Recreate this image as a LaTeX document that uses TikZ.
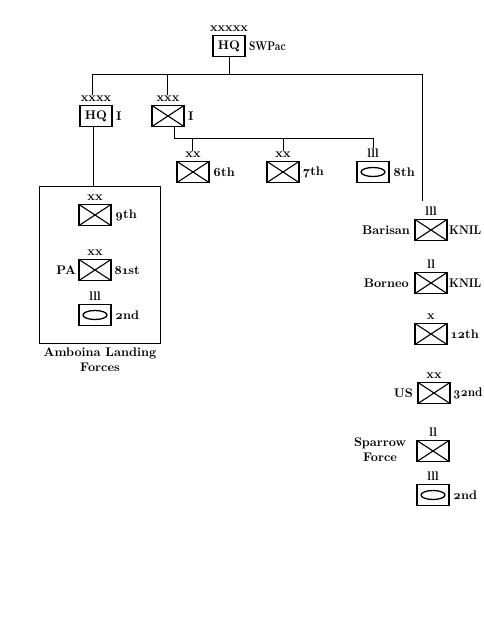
\documentclass[tikz,border=0pt]{standalone}
\usepackage{graphicx}
\usepackage{fontspec}
\setmainfont{lmroman10}[Extension=.otf, UprightFont=*-regular, BoldFont=*-bold, ItalicFont=*-italic, BoldItalicFont=*-bolditalic, Numbers=OldStyle]
\usetikzlibrary{positioning}
\newcommand{\squeeze}[2]{\scalebox{#1}[1]{#2}}
\begin{document}
\begin{tikzpicture}[x=1pt,y=-1pt,
  every node/.style={font=\bfseries\fontsize{12.5}{14}\selectfont},
  unitbox/.style={draw, line width=1.8pt, minimum width=32pt, minimum height=21pt, inner sep=0pt},
  inf/.style={unitbox, path picture={\draw[line width=1.1pt]
     (path picture bounding box.north west) -- (path picture bounding box.south east)
     (path picture bounding box.south west) -- (path picture bounding box.north east);}},
  rec/.style={unitbox, path picture={\draw[line width=1.3pt]
     (path picture bounding box.center) ellipse[x radius=12pt, y radius=4.5pt];}},
  hq/.style={unitbox},
  ech/.style={anchor=base, inner sep=0.5pt},
  sidel/.style={anchor=west, inner sep=0pt},
  sider/.style={anchor=east, inner sep=0pt},
  twoline/.style={align=center, inner sep=0pt, font=\bfseries\fontsize{12.5}{15}\selectfont},
  conn/.style={line width=1pt}
]
\useasboundingbox (0,0) rectangle (484,638);
\fill[white] (0,0) rectangle (484,638);

% top HQ
\node[hq] (sw) at (229,46) {HQ};
\node[ech] (swe) at ([yshift=3pt]sw.north) {xxxxx};
\node[sidel] at ([xshift=3pt]sw.east) {\squeeze{0.8}{SWPac}};

% army level
\node[hq] (hqI) at (96,116) {HQ};
\node[ech] (hqIe) at ([yshift=3pt]hqI.north) {xxxx};
\node[sidel] at ([xshift=3pt]hqI.east) {I};

\node[inf] (crI) at (168,116) {};
\node[ech] (crIe) at ([yshift=3pt]crI.north) {xxx};
\node[sidel] at ([xshift=3pt]crI.east) {I};

% divisions under corps
\node[inf] (c6) at (193,172) {};
\node[ech] (c6e) at ([yshift=3pt]c6.north) {xx};
\node[sidel] at ([xshift=3pt]c6.east) {6th};

\node[inf] (c7) at (283,172) {};
\node[ech] (c7e) at ([yshift=3pt]c7.north) {xx};
\node[sidel] at ([xshift=3pt]c7.east) {7th};

\node[rec] (c8) at (373,172) {};
\node[ech] (c8e) at ([yshift=3pt]c8.north) {lll};
\node[sidel] at ([xshift=3pt]c8.east) {8th};

% Amboina landing forces
\node[draw, line width=1pt, minimum width=121pt, minimum height=157pt, inner sep=0pt] (amb) at (99.5,264.5) {};
\node[twoline, anchor=north] (ambl) at (100,348) {Amboina Landing\\Forces};

\node[inf] (a9) at (95,215) {};
\node[ech] at ([yshift=3pt]a9.north) {xx};
\node[sidel] at ([xshift=3pt]a9.east) {9th};

\node[inf] (a81) at (95,270) {};
\node[ech] at ([yshift=3pt]a81.north) {xx};
\node[sidel] at ([xshift=2pt]a81.east) {81st};
\node[sider] at ([xshift=-2pt]a81.west) {PA};

\node[rec] (a2) at (95,315) {};
\node[ech] at ([yshift=3pt]a2.north) {lll};
\node[sidel] at ([xshift=3pt]a2.east) {2nd};

% right column
\node[inf] (bar) at (431,230) {};
\node[ech] (bare) at ([yshift=3pt]bar.north) {lll};
\node[sidel] at ([xshift=1pt]bar.east) {\squeeze{0.88}{KNIL}};
\node[sider] at ([xshift=-4pt]bar.west) {Barisan};

\node[inf] (bor) at (431,283) {};
\node[ech] at ([yshift=3pt]bor.north) {ll};
\node[sidel] at ([xshift=1pt]bor.east) {\squeeze{0.88}{KNIL}};
\node[sider] at ([xshift=-5pt]bor.west) {Borneo};

\node[inf] (b12) at (431,334) {};
\node[ech] at ([yshift=3pt]b12.north) {x};
\node[sidel] at ([xshift=3pt]b12.east) {12th};

\node[inf] (b32) at (434,393) {};
\node[ech] at ([yshift=3pt]b32.north) {xx};
\node[sidel] at ([xshift=2pt]b32.east) {\squeeze{0.92}{32nd}};
\node[sider] at ([xshift=-4pt]b32.west) {US};

\node[inf] (spa) at (433,451) {};
\node[ech] at ([yshift=3pt]spa.north) {ll};
\node[twoline] at (380,450) {Sparrow\\Force};

\node[rec] (b2) at (433,495) {};
\node[ech] at ([yshift=3pt]b2.north) {lll};
\node[sidel] at ([xshift=3pt]b2.east) {2nd};

% connectors
\coordinate (bL) at (92,74);
\coordinate (bR) at (422,74);
\coordinate (bM) at (167,74);
\draw[conn] (sw.south) -- (sw.south |- bL);
\draw[conn] (bL) -- (bR);
\draw[conn] (bL) -- (bL |- hqIe.north);
\draw[conn] (bM) -- (bM |- crIe.north);
\draw[conn] (bR) -- ([yshift=5pt]bR |- bare.north);
\draw[conn] ([xshift=-3pt]hqI.south) -- ([xshift=-3pt]hqI.south |- amb.north);
\coordinate (cb) at (174,138);
\coordinate (ce) at (373,138);
\draw[conn] ([xshift=6pt]crI.south) -- (cb) -- (ce) -- (ce |- c8e.north);
\draw[conn] ([xshift=-1pt]cb -| c6e.north) -- ([xshift=-1pt]c6e.north);
\draw[conn] (cb -| c7e.north) -- (c7e.north);
\end{tikzpicture}
\end{document}
